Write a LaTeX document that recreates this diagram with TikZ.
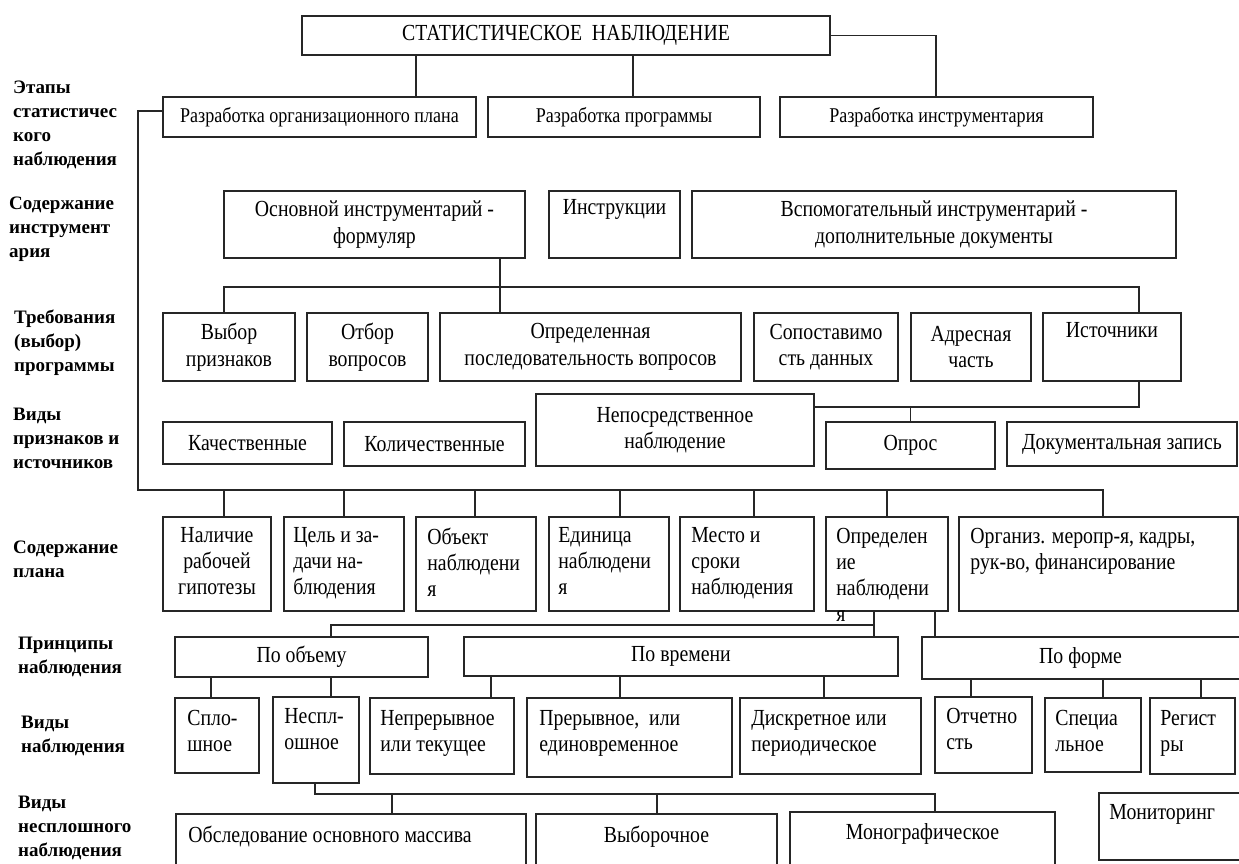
\documentclass[tikz,border=0pt]{standalone}
\usepackage{fontspec}
\setmainfont{Liberation Serif}[FakeStretch=0.86]
\newfontfamily\sidefont{Liberation Serif}
\usetikzlibrary{fit}

\tikzset{
  plate/.style={draw=black!85, line width=1.6pt, inner sep=0pt},
  txt/.style={inner sep=0pt, align=left, anchor=north west,
    font=\fontsize{23}{26}\selectfont},
  ctxt/.style={txt, align=center, anchor=north},
  mid/.style={inner sep=0pt, align=center, font=\fontsize{23}{26.5}\selectfont},
  smallmid/.style={mid, font=\fontsize{21}{24}\selectfont},
  side/.style={inner sep=0pt, align=left, anchor=north west,
    font=\sidefont\bfseries\fontsize{19}{24}\selectfont},
  link/.style={draw=black!85, line width=1.4pt}
}

\begin{document}
\begin{tikzpicture}[x=1pt, y=-1pt]
\clip (0,0) rectangle (1239,864);
\fill[white] (0,0) rectangle (1239,864);

% side labels
\node[side] (lbl-stages) at (13,81) {Этапы\\статистичес\\кого\\наблюдения};
\node[side] (lbl-tools) at (9,197) {Содержание\\инструмент\\ария};
\node[side] (lbl-req) at (14,310) {Требования\\(выбор)\\программы};
\node[side] (lbl-kinds) at (13,408) {Виды\\признаков и\\источников};
\node[side] (lbl-plan) at (13,541) {Содержание\\плана};
\node[side] (lbl-princ) at (18,637) {Принципы\\наблюдения};
\node[side] (lbl-obs) at (21,716) {Виды\\наблюдения};
\node[side] (lbl-part) at (18,796) {Виды\\несплошного\\наблюдения};

% stages
\node[plate, fit={(302,16) (830,55)}] (title) {};
\node[plate, fit={(163,97) (476,137)}] (orgplan) {};
\node[plate, fit={(488,97) (760,137)}] (prog) {};
\node[plate, fit={(780,97) (1093,137)}] (instr) {};
\node[mid] (title-t) at (title.center) {СТАТИСТИЧЕСКОЕ\ \ НАБЛЮДЕНИЕ};
\node[smallmid] (orgplan-t) at (orgplan.center) {Разработка организационного плана};
\node[smallmid] (prog-t) at (prog.center) {Разработка программы};
\node[smallmid] (instr-t) at (instr.center) {Разработка инструментария};

% tools
\node[plate, fit={(224,191) (525,258)}] (osnov) {};
\node[plate, fit={(549,191) (680,258)}] (instruct) {};
\node[plate, fit={(692,191) (1176,258)}] (vspom) {};
\node[mid] (osnov-t) at (osnov.center) {Основной инструментарий -\\формуляр};
\node[mid] (instruct-t) at (instruct.center) {Инструкции\\\strut};
\node[mid] (vspom-t) at (vspom.center) {Вспомогательный инструментарий -\\дополнительные документы};

% requirements
\node[plate, fit={(163,313) (295,381)}] (vybor) {};
\node[plate, fit={(307,313) (428,381)}] (otbor) {};
\node[plate, fit={(440,313) (741,381)}] (posl) {};
\node[plate, fit={(754,313) (898,381)}] (sopost) {};
\node[plate, fit={(911,313) (1031,381)}] (adres) {};
\node[plate, fit={(1043,313) (1181,381)}] (istoch) {};
\node[mid] (vybor-t) at (vybor.center) {Выбор\\признаков};
\node[mid] (otbor-t) at (otbor.center) {Отбор\\вопросов};
\node[mid] (posl-t) at (posl.center) {Определенная\\последовательность вопросов};
\node[mid] (sopost-t) at (sopost.center) {Сопоставимо\\сть данных};
\node[mid] (adres-t) at (adres.center) {Адресная\\часть};
\node[mid] (istoch-t) at (istoch.center) {Источники\\\strut};

% kinds of signs and sources
\node[plate, fit={(163,422) (332,464)}] (kachest) {};
\node[plate, fit={(344,422) (525,466)}] (kolich) {};
\node[plate, fit={(536,394) (814,466)}] (neposr) {};
\node[plate, fit={(826,422) (995,469)}] (opros) {};
\node[plate, fit={(1007,422) (1237,466)}] (dokum) {};
\node[mid] (kachest-t) at (kachest.center) {Качественные};
\node[mid] (kolich-t) at (kolich.center) {Количественные};
\node[mid] (neposr-t) at (neposr.center) {Непосредственное\\наблюдение};
\node[mid] (opros-t) at (opros.center) {Опрос};
\node[mid] (dokum-t) at (dokum.center) {Документальная запись};

% plan
\node[plate, fit={(163,517) (271,611)}] (nalichie) {};
\node[plate, fit={(284,517) (404,611)}] (goal) {};
\node[plate, fit={(416,517) (536,611)}] (object) {};
\node[plate, fit={(549,517) (669,611)}] (unit) {};
\node[plate, fit={(680,517) (814,611)}] (place) {};
\node[plate, fit={(826,517) (948,611)}] (defin) {};
\node[plate, fit={(959,517) (1238,611)}] (organiz) {};
\node[ctxt] (nalichie-t) at ([yshift=-11.5pt]nalichie.north) {Наличие\\рабочей\\гипотезы};
\node[txt] (goal-t) at ([shift={(10,11.5)}]goal.north west) {Цель и за-\\дачи на-\\блюдения};
\node[txt] (object-t) at ([shift={(12,11.5)}]object.north west) {Объект\\наблюдени\\я};
\node[txt] (unit-t) at ([shift={(10,11.5)}]unit.north west) {Единица\\наблюдени\\я};
\node[txt] (place-t) at ([shift={(12,11.5)}]place.north west) {Место и\\сроки\\наблюдения};
\node[txt] (defin-t) at ([shift={(11,11.5)}]defin.north west) {Определен\\ие\\наблюдени\\я};
\node[txt] (organiz-t) at ([shift={(12,11.5)}]organiz.north west) {Организ. меропр-я, кадры,\\рук-во, финансирование};

% principles
\node[plate, fit={(175,637) (428,677)}] (pobjem) {};
\node[plate, fit={(464,637) (898,676)}] (potime) {};
\node[plate, fit={(922,637) (1243,679)}] (poform) {};
\node[mid] (pobjem-t) at (pobjem.center) {По объему};
\node[mid] (potime-t) at (potime.center) {По времени};
\node[mid] (poform-t) at ([xshift=-2pt]poform.center) {По форме};

% kinds of observation
\node[plate, fit={(175,698) (259,773)}] (splosh) {};
\node[plate, fit={(273,697) (359,783)}] (nesplosh) {};
\node[plate, fit={(370,698) (514,774)}] (nepr) {};
\node[plate, fit={(527,698) (732,777)}] (prer) {};
\node[plate, fit={(740,698) (921,774)}] (diskr) {};
\node[plate, fit={(935,697) (1032,773)}] (otchet) {};
\node[plate, fit={(1045,698) (1141,772)}] (spec) {};
\node[plate, fit={(1150,698) (1235,774)}] (regist) {};
\node[txt] (splosh-t) at ([shift={(13,13)}]splosh.north west) {Спло-\\шное};
\node[txt] (nesplosh-t) at ([shift={(12,12)}]nesplosh.north west) {Неспл-\\ошное};
\node[txt] (nepr-t) at ([shift={(11,13)}]nepr.north west) {Непрерывное\\или текущее};
\node[txt] (prer-t) at ([shift={(13,13)}]prer.north west) {Прерывное,\ \ или\\единовременное};
\node[txt] (diskr-t) at ([shift={(12,13)}]diskr.north west) {Дискретное или\\периодическое};
\node[txt] (otchet-t) at ([shift={(12,12)}]otchet.north west) {Отчетно\\сть};
\node[txt] (spec-t) at ([shift={(11,13)}]spec.north west) {Специа\\льное};
\node[txt] (regist-t) at ([shift={(11,13)}]regist.north west) {Регист\\ры};

% kinds of partial observation
\node[plate, fit={(176,814) (526,880)}] (obsled) {};
\node[plate, fit={(536,814) (777,880)}] (vyb) {};
\node[plate, fit={(790,812) (1055,880)}] (monogr) {};
\node[plate, fit={(1099,793) (1243,860)}] (monit) {};
\node[txt] (obsled-t) at ([shift={(13,13)}]obsled.north west) {Обследование основного массива};
\node[ctxt] (vyb-t) at ([yshift=-13pt]vyb.north) {Выборочное};
\node[ctxt] (monogr-t) at ([yshift=-12.5pt]monogr.north) {Монографическое};
\node[txt] (monit-t) at ([shift={(11,12.5)}]monit.north west) {Мониторинг};

% connectors
\draw[link] (title.south -| 416,0) -- (orgplan.north -| 416,0);
\draw[link] (title.south -| 633,0) -- (prog.north -| 633,0);
\draw[link] (title.east) -| (instr.north -| 936,0);

\coordinate (planbus) at (138,490);
\draw[link] (orgplan.west |- 0,111) -| (planbus) -| (organiz.north -| 1103,0);
\foreach \n/\x in {nalichie/224, goal/344, object/475, unit/620, place/754, defin/887}
  \draw[link] (planbus -| \x,0) -- (\n.north -| \x,0);

\coordinate (reqbus) at (0,287);
\draw[link] (osnov.south -| 500,0) -- (posl.north -| 500,0);
\draw[link] (vybor.north -| 224,0) |- (reqbus -| 1139,0) -- (istoch.north -| 1139,0);

\coordinate (srcbus) at (0,407);
\draw[link] (istoch.south -| 1139,0) |- (neposr.east |- srcbus);
\draw[link] (opros.north) -- (opros.north |- srcbus);

\coordinate (prinbus) at (0,625);
\draw[link] (defin.south -| 874,0) -- (potime.north -| 874,0);
\draw[link] (prinbus -| 874,0) -| (pobjem.north -| 331,0);
\draw[link] (defin.south -| 935,0) -- (poform.north -| 935,0);

\foreach \a/\b/\x in {pobjem/splosh/211, pobjem/nesplosh/331, potime/nepr/491,
    potime/prer/620, potime/diskr/824, poform/otchet/971, poform/spec/1103, poform/regist/1201}
  \draw[link] (\a.south -| \x,0) -- (\b.north -| \x,0);

\coordinate (partbus) at (0,794);
\draw[link] (nesplosh.south -| 315,0) -- (partbus -| 315,0) -| (monogr.north -| 935,0);
\foreach \n/\x in {obsled/392, vyb/657}
  \draw[link] (partbus -| \x,0) -- (\n.north -| \x,0);
\end{tikzpicture}
\end{document}
